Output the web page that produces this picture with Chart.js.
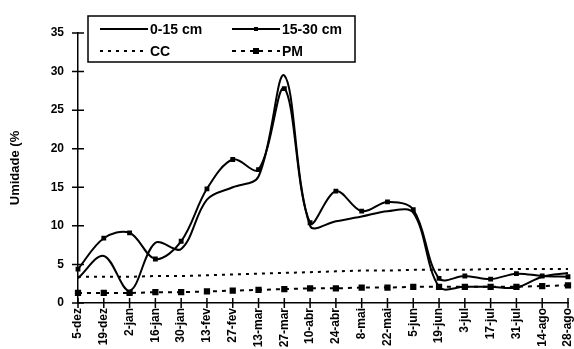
<!DOCTYPE html>
<html>
<head>
<meta charset="utf-8">
<script src="https://cdn.jsdelivr.net/npm/chart.js@4.4.0/dist/chart.umd.min.js"></script>
<style>
  html, body { margin: 0; padding: 0; background: #fff; }
</style>
</head>
<body>
<canvas id="chart" width="574" height="349"></canvas>
<script>
/* Umidade do solo por profundidade */

const datas = ['5-dez', '19-dez', '2-jan', '16-jan', '30-jan', '13-fev', '27-fev', '13-mar', '27-mar', '10-abr',
  '24-abr', '8-mai', '22-mai', '5-jun', '19-jun', '3-jul', '17-jul', '31-jul', '14-ago', '28-ago'];
const umid0a15 = [3.2, 6.1, 1.6, 7.8, 7.0, 13.4, 15.0, 16.4, 29.5, 10.0,
  10.6, 11.2, 11.9, 11.7, 2.1, 2.1, 2.1, 2.0, 3.4, 3.9];
const umid15a30 = [4.4, 8.4, 9.1, 5.7, 8.0, 14.8, 18.6, 17.3, 27.8, 10.4,
  14.5, 11.9, 13.1, 12.1, 3.2, 3.5, 3.1, 3.8, 3.5, 3.4];
const cc = [3.4, 3.4, 3.4, 3.5, 3.5, 3.6, 3.7, 3.8, 3.9, 4.0,
  4.1, 4.2, 4.2, 4.3, 4.3, 4.3, 4.4, 4.4, 4.4, 4.4];
const pm = [1.3, 1.3, 1.3, 1.4, 1.4, 1.5, 1.6, 1.7, 1.8, 1.9,
  1.9, 2.0, 2.0, 2.1, 2.1, 2.1, 2.1, 2.1, 2.2, 2.3];

const FONT = "'Liberation Sans', Arial, sans-serif";

// tick marks crossing the axes
const crossTicks = {
  id: 'crossTicks',
  afterDraw(chart) {
    const { ctx, scales: { x, y } } = chart;
    ctx.save();
    ctx.strokeStyle = '#000';
    ctx.lineWidth = 1.5;
    ctx.beginPath();
    y.ticks.forEach((t, i) => {
      const py = y.getPixelForTick(i);
      ctx.moveTo(y.right - 6, py); ctx.lineTo(y.right + 6, py);
    });
    x.ticks.forEach((t, i) => {
      const px = x.getPixelForTick(i);
      ctx.moveTo(px, x.top - 5); ctx.lineTo(px, x.top + 5);
    });
    ctx.stroke();
    ctx.restore();
  }
};

// boxed legend, two columns
const boxLegend = {
  id: 'boxLegend',
  afterDraw(chart) {
    const ctx = chart.ctx;
    const ds = chart.data.datasets;
    const slots = [
      { i: 0, x: 100, y: 29 }, { i: 1, x: 232, y: 29 },
      { i: 2, x: 100, y: 51 }, { i: 3, x: 232, y: 51 },
    ];
    ctx.save();
    ctx.fillStyle = '#fff';
    ctx.fillRect(88, 16, 267, 46);
    ctx.strokeStyle = '#000';
    ctx.lineWidth = 1.5;
    ctx.strokeRect(88, 16, 267, 46);
    ctx.font = 'bold 14px ' + FONT;
    ctx.textBaseline = 'middle';
    slots.forEach(s => {
      const d = ds[s.i];
      ctx.strokeStyle = '#000';
      ctx.lineWidth = d.borderWidth;
      ctx.setLineDash(d.borderDash || []);
      ctx.beginPath();
      ctx.moveTo(s.x, s.y); ctx.lineTo(s.x + 48, s.y);
      ctx.stroke();
      ctx.setLineDash([]);
      if (d.pointRadius > 0) {
        const r = d.pointRadius;
        ctx.fillStyle = '#000';
        ctx.fillRect(s.x + 24 - r, s.y - r, 2 * r, 2 * r);
      }
      ctx.fillStyle = '#000';
      ctx.fillText(d.label, s.x + 50, s.y + 1);
    });
    ctx.restore();
  }
};

new Chart(document.getElementById('chart'), {
  type: 'line',
  data: {
    labels: datas,
    datasets: [
      {
        label: '0-15 cm',
        data: umid0a15,
        borderColor: '#000',
        borderWidth: 2,
        pointRadius: 0,
        tension: 0.35,
      },
      {
        label: '15-30 cm',
        data: umid15a30,
        borderColor: '#000',
        backgroundColor: '#000',
        borderWidth: 2,
        pointStyle: 'rect',
        pointRadius: 2,
        tension: 0.35,
      },
      {
        label: 'CC',
        data: cc,
        borderColor: '#000',
        borderWidth: 2,
        borderDash: [3, 5],
        pointRadius: 0,
      },
      {
        label: 'PM',
        data: pm,
        borderColor: '#000',
        backgroundColor: '#000',
        borderWidth: 2,
        borderDash: [4, 5],
        pointStyle: 'rect',
        pointRadius: 3,
      },
    ],
  },
  options: {
    responsive: false,
    animation: false,
    layout: { padding: { top: 33, right: 5, left: 0, bottom: 0 } },
    plugins: {
      legend: { display: false },
      tooltip: { enabled: false },
    },
    scales: {
      x: {
        offset: false,
        grid: { display: false, drawTicks: false },
        border: { display: true, color: '#000', width: 1.5 },
        afterFit: s => { s.height = 46; s.paddingLeft = 0; s.paddingRight = 0; },
        ticks: {
          color: '#000',
          font: { family: FONT, size: 12, weight: 'bold' },
          minRotation: 90,
          maxRotation: 90,
          autoSkip: false,
          padding: 5,
        },
      },
      y: {
        min: 0,
        max: 35,
        grid: { display: false, drawTicks: false },
        border: { display: true, color: '#000', width: 1.5 },
        afterFit: s => { s.width = 78; },
        ticks: {
          stepSize: 5,
          color: '#000',
          font: { family: FONT, size: 12, weight: 'bold' },
          padding: 14,
        },
        title: {
          display: true,
          text: 'Umidade (%',
          color: '#000',
          font: { family: FONT, size: 13, weight: 'bold' },
          padding: { top: 8, bottom: 0 },
        },
      },
    },
  },
  plugins: [crossTicks, boxLegend],
});
</script>
</body>
</html>
